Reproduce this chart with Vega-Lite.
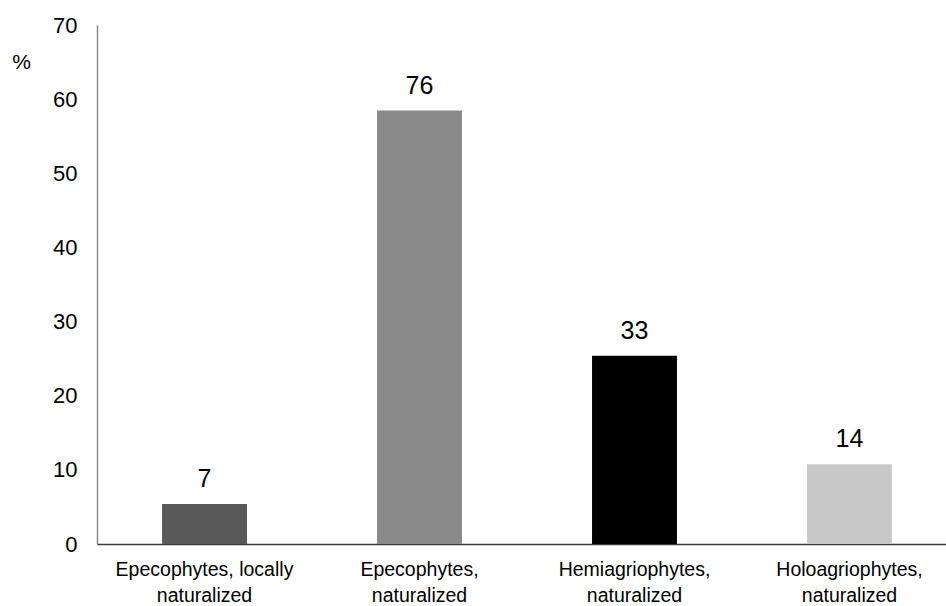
{
  "$schema": "https://vega.github.io/schema/vega-lite/v6.json",
  "autosize": "none",
  "width": 860,
  "height": 519,
  "padding": {"left": 97, "top": 25, "right": 0, "bottom": 62},
  "background": "white",
  "config": {"view": {"stroke": null}, "font": "Liberation Sans"},
  "data": {
    "values": [
      {"category": "Epecophytes, locally naturalized", "percent": 5.38, "count": 7, "color": "#595959"},
      {"category": "Epecophytes, naturalized", "percent": 58.46, "count": 76, "color": "#898989"},
      {"category": "Hemiagriophytes, naturalized", "percent": 25.38, "count": 33, "color": "#000000"},
      {"category": "Holoagriophytes, naturalized", "percent": 10.77, "count": 14, "color": "#c8c8c8"}
    ]
  },
  "encoding": {
    "x": {
      "field": "category",
      "type": "nominal",
      "sort": null,
      "scale": {"paddingInner": 0.605, "paddingOuter": 0.3025},
      "axis": {
        "title": null,
        "labelAngle": 0,
        "ticks": false,
        "domainColor": "#3c3c3c",
        "domainWidth": 1.5,
        "labelFontSize": 19.5,
        "labelColor": "#000000",
        "labelPadding": 16,
        "labelLineHeight": 26,
        "labelExpr": "[slice(datum.value, 0, lastindexof(datum.value, ' ')), slice(datum.value, lastindexof(datum.value, ' ') + 1)]"
      }
    },
    "y": {
      "field": "percent",
      "type": "quantitative",
      "scale": {"domain": [0, 70], "nice": false},
      "axis": {
        "values": [0, 10, 20, 30, 40, 50, 60, 70],
        "grid": false,
        "ticks": false,
        "domainColor": "#8a8a8a",
        "domainWidth": 1.5,
        "labelFontSize": 22,
        "labelColor": "#000000",
        "labelPadding": 20,
        "title": "%",
        "titleAngle": 0,
        "titleFontSize": 21,
        "titleFontWeight": "normal",
        "titleColor": "#000000",
        "titleAlign": "center",
        "titleBaseline": "middle",
        "titleX": -76,
        "titleY": 37
      }
    }
  },
  "layer": [
    {
      "mark": {"type": "bar"},
      "encoding": {
        "color": {"field": "color", "type": "nominal", "scale": null}
      }
    },
    {
      "mark": {"type": "text", "dy": -25, "fontSize": 25, "color": "#000000", "baseline": "middle"},
      "encoding": {"text": {"field": "count", "type": "quantitative"}}
    }
  ]
}
